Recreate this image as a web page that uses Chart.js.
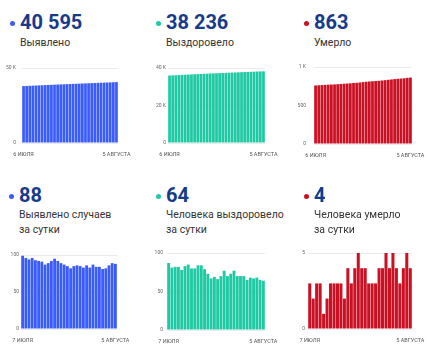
<!DOCTYPE html>
<html>
<head>
<meta charset="utf-8">
<script src="https://cdn.jsdelivr.net/npm/chart.js@4.4.1/dist/chart.umd.min.js"></script>
<style>
  body { margin: 0; background: #fff; font-family: Roboto, "Noto Sans", sans-serif; }
  #wrap { position: relative; width: 430px; height: 350px; overflow: hidden; }
  .num { position: absolute; font-weight: 700; font-size: 20px; line-height: 20px; color: #173a8c; white-space: nowrap; }
  .dot { position: absolute; width: 5px; height: 5px; border-radius: 50%; }
  .lbl { position: absolute; font-size: 10.5px; line-height: 15px; color: #333; }
  canvas { position: absolute; }
</style>
</head>
<body>
<div id="wrap"></div>
<script>
// Data (cumulative: 6 July - 5 August, daily: 7 July - 5 August)
const topDates = [
  "6 ИЮЛЯ", "7 ИЮЛЯ", "8 ИЮЛЯ", "9 ИЮЛЯ", "10 ИЮЛЯ", "11 ИЮЛЯ", "12 ИЮЛЯ", "13 ИЮЛЯ",
  "14 ИЮЛЯ", "15 ИЮЛЯ", "16 ИЮЛЯ", "17 ИЮЛЯ", "18 ИЮЛЯ", "19 ИЮЛЯ", "20 ИЮЛЯ", "21 ИЮЛЯ",
  "22 ИЮЛЯ", "23 ИЮЛЯ", "24 ИЮЛЯ", "25 ИЮЛЯ", "26 ИЮЛЯ", "27 ИЮЛЯ", "28 ИЮЛЯ", "29 ИЮЛЯ",
  "30 ИЮЛЯ", "31 ИЮЛЯ", "1 АВГУСТА", "2 АВГУСТА", "3 АВГУСТА", "4 АВГУСТА", "5 АВГУСТА"
];
const dailyDates = [
  "7 ИЮЛЯ", "8 ИЮЛЯ", "9 ИЮЛЯ", "10 ИЮЛЯ", "11 ИЮЛЯ", "12 ИЮЛЯ", "13 ИЮЛЯ",
  "14 ИЮЛЯ", "15 ИЮЛЯ", "16 ИЮЛЯ", "17 ИЮЛЯ", "18 ИЮЛЯ", "19 ИЮЛЯ", "20 ИЮЛЯ", "21 ИЮЛЯ",
  "22 ИЮЛЯ", "23 ИЮЛЯ", "24 ИЮЛЯ", "25 ИЮЛЯ", "26 ИЮЛЯ", "27 ИЮЛЯ", "28 ИЮЛЯ", "29 ИЮЛЯ",
  "30 ИЮЛЯ", "31 ИЮЛЯ", "1 АВГУСТА", "2 АВГУСТА", "3 АВГУСТА", "4 АВГУСТА", "5 АВГУСТА"
];

const detectedTotal = [37947, 38046, 38142, 38236, 38332, 38425, 38517, 38608, 38695, 38784, 38876,
  38971, 39063, 39152, 39239, 39324, 39406, 39491, 39577, 39662, 39745, 39831, 39914, 40001, 40085,
  40169, 40250, 40332, 40418, 40507, 40595];
const recoveredTotal = [36002, 36089, 36170, 36252, 36334, 36412, 36495, 36580, 36660, 36740, 36824,
  36908, 36986, 37059, 37126, 37196, 37262, 37332, 37409, 37479, 37552, 37629, 37699, 37769, 37839,
  37904, 37972, 38039, 38107, 38172, 38236];
const deathsTotal = [760, 763, 765, 768, 771, 772, 774, 777, 780, 783, 786, 788, 792, 795, 799, 804,
  808, 812, 815, 818, 821, 825, 829, 834, 838, 843, 847, 850, 854, 859, 863];

const detectedDaily = [99, 96, 94, 96, 93, 92, 91, 87, 89, 92, 95, 92, 89, 87, 85, 82, 85, 86, 85, 83,
  86, 83, 87, 84, 84, 81, 82, 86, 89, 88];
const recoveredDaily = [87, 81, 82, 82, 78, 83, 85, 80, 80, 84, 84, 79, 73, 67, 69, 66, 70, 77, 70, 73,
  77, 70, 70, 70, 65, 68, 67, 68, 65, 64];
const deathsDaily = [3, 2, 3, 3, 1, 2, 3, 3, 3, 3, 2, 4, 3, 4, 5, 4, 4, 3, 3, 3, 4, 4, 5, 4, 5, 4, 3,
  4, 5, 4];

const yTicksDetected = [0, 50000];
const yTicksRecovered = [0, 20000, 40000];
const yTicksDeaths = [0, 500, 1000];
const yTicksDaily = [0, 50, 100];
const yTicksDeathsDaily = [0, 5];

const totals = ["40 595", "38 236", "863", "88", "64", "4"];
const titles = [
  "Выявлено", "Выздоровело", "Умерло",
  "Выявлено случаев<br>за сутки", "Человека выздоровело<br>за сутки", "Человека умерло<br>за сутки"
];

const BLUE = "#3a5cfb";
const TEAL = "#1ec9a3";
const RED = "#cc1024";

// panel layout: text positions and plot box (labelRight = right edge of y tick text)
const panels = [
  { values: detectedTotal, dates: topDates, ticks: yTicksDetected, color: BLUE,
    numX: 20, numY: 12, lblY: 35, labelRight: 16, plotLeft: 22, plotRight: 118, plotTop: 68, plotBottom: 143 },
  { values: recoveredTotal, dates: topDates, ticks: yTicksRecovered, color: TEAL,
    numX: 166, numY: 12, lblY: 35, labelRight: 166, plotLeft: 168, plotRight: 265, plotTop: 68, plotBottom: 143 },
  { values: deathsTotal, dates: topDates, ticks: yTicksDeaths, color: RED,
    numX: 314, numY: 12, lblY: 35, labelRight: 306, plotLeft: 314, plotRight: 412, plotTop: 67, plotBottom: 144 },
  { values: detectedDaily, dates: dailyDates, ticks: yTicksDaily, color: BLUE,
    numX: 19, numY: 185, lblY: 207, labelRight: 19, plotLeft: 21, plotRight: 117, plotTop: 255, plotBottom: 329 },
  { values: recoveredDaily, dates: dailyDates, ticks: yTicksDaily, color: TEAL,
    numX: 166, numY: 185, lblY: 207, labelRight: 163, plotLeft: 167, plotRight: 265, plotTop: 253, plotBottom: 330 },
  { values: deathsDaily, dates: dailyDates, ticks: yTicksDeathsDaily, color: RED,
    numX: 314, numY: 185, lblY: 207, labelRight: 305, plotLeft: 308, plotRight: 412, plotTop: 253, plotBottom: 329 }
];

const wrap = document.getElementById("wrap");

function formatTick(v) {
  if (v >= 1000) return v / 1000 + " K";
  return String(v);
}

function renderPanel(p, i) {
  const dot = document.createElement("div");
  dot.className = "dot";
  dot.style.background = p.color;
  dot.style.left = (p.numX - 10) + "px";
  dot.style.top = (p.numY + 9) + "px";
  wrap.appendChild(dot);

  const num = document.createElement("div");
  num.className = "num";
  num.textContent = totals[i];
  num.style.left = p.numX + "px";
  num.style.top = p.numY + "px";
  wrap.appendChild(num);

  const lbl = document.createElement("div");
  lbl.className = "lbl";
  lbl.innerHTML = titles[i];
  lbl.style.left = p.numX + "px";
  lbl.style.top = p.lblY + "px";
  wrap.appendChild(lbl);

  const axisW = 24, padR = 22, padT = 6, axisH = 18;
  const canvas = document.createElement("canvas");
  const left = p.plotLeft - axisW;
  const top = p.plotTop - padT;
  const w = p.plotRight - left + padR;
  const h = p.plotBottom - top + axisH;
  canvas.width = w;
  canvas.height = h;
  canvas.style.left = left + "px";
  canvas.style.top = top + "px";
  wrap.appendChild(canvas);

  const last = p.dates.length - 1;

  new Chart(canvas.getContext("2d"), {
    type: "bar",
    data: {
      labels: p.dates,
      datasets: [{
        data: p.values,
        backgroundColor: p.color,
        borderWidth: 0,
        barPercentage: 0.88,
        categoryPercentage: 1
      }]
    },
    options: {
      responsive: false,
      animation: false,
      devicePixelRatio: 1,
      layout: { padding: { left: 0, right: padR, top: padT, bottom: 0 } },
      plugins: { legend: { display: false }, tooltip: { enabled: false } },
      scales: {
        x: {
          grid: { display: false, drawTicks: false },
          border: { display: false },
          ticks: {
            autoSkip: false,
            maxRotation: 0,
            padding: 8,
            font: { family: "Roboto", size: 5.5 },
            color: "#555",
            callback: function (val, idx) {
              return idx === 0 || idx === last ? this.getLabelForValue(val) : "";
            }
          },
          afterFit: (scale) => {
            scale.height = axisH;
            scale.paddingLeft = 0;
            scale.paddingRight = 0;
          }
        },
        y: {
          min: 0,
          max: p.ticks[p.ticks.length - 1],
          grid: { color: "#ebebeb", drawTicks: false },
          border: { display: false },
          ticks: {
            crossAlign: "near",
            padding: p.plotLeft - p.labelRight,
            font: { family: "Roboto", size: 5 },
            color: "#666",
            callback: (v) => formatTick(v)
          },
          afterBuildTicks: (scale) => {
            scale.ticks = p.ticks.map((v) => ({ value: v }));
          },
          afterFit: (scale) => {
            scale.width = axisW;
            scale.paddingTop = 0;
            scale.paddingBottom = 0;
          }
        }
      }
    }
  });
}

panels.forEach(renderPanel);
</script>
</body>
</html>
